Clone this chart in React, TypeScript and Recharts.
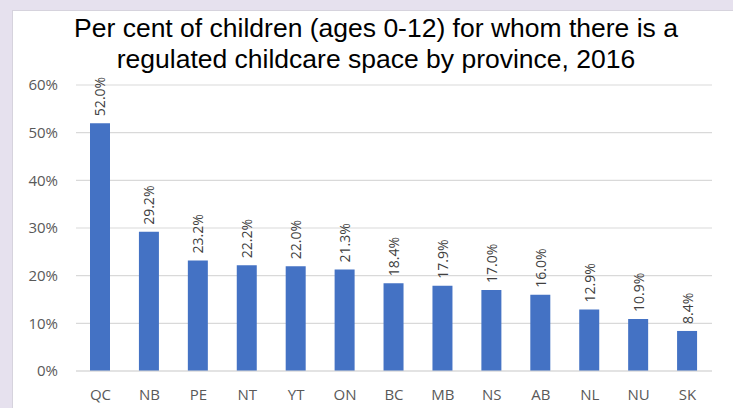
import React from "react";
import {
  BarChart,
  Bar,
  XAxis,
  YAxis,
  CartesianGrid,
  LabelList,
} from "recharts";

const provinces = ["QC", "NB", "PE", "NT", "YT", "ON", "BC", "MB", "NS", "AB", "NL", "NU", "SK"];
const coverage = [52.0, 29.2, 23.2, 22.2, 22.0, 21.3, 18.4, 17.9, 17.0, 16.0, 12.9, 10.9, 8.4];
const yTicks = [0, 10, 20, 30, 40, 50, 60];

const titleLines = [
  "Per cent of children (ages 0-12) for whom there is a",
  "regulated childcare space by province, 2016",
];

const data = provinces.map((p, i) => ({ province: p, value: coverage[i] }));

const tickFont = { fontFamily: "'Open Sans', sans-serif", fontSize: 15, fill: "#595959" };

function RotatedLabel(props: any) {
  const { x, y, width, value } = props;
  const cx = x + width / 2;
  const ty = y - 7;
  return (
    <text
      x={cx}
      y={ty}
      transform={`rotate(-90, ${cx}, ${ty})`}
      textAnchor="start"
      dominantBaseline="central"
      fontFamily="'Open Sans', sans-serif"
      fontSize={14}
      fill="#404040"
    >
      {`${Number(value).toFixed(1)}%`}
    </text>
  );
}

export default function App() {
  return (
    <div
      style={{
        position: "absolute",
        left: 0,
        top: 0,
        width: 733,
        height: 408,
        background: "#e6e1ee",
        overflow: "hidden",
      }}
    >
      <div
        style={{
          position: "absolute",
          left: 12,
          top: 10,
          width: 721,
          height: 398,
          background: "#ffffff",
          borderLeft: "1px solid #d6d3dd",
          borderTop: "1px solid #d6d3dd",
          boxSizing: "border-box",
        }}
      >
        <div
          style={{
            position: "absolute",
            left: 0,
            top: 2,
            width: 726,
            textAlign: "center",
            fontFamily: "'Liberation Sans', Arial, sans-serif",
            fontSize: 26.5,
            lineHeight: "31px",
            color: "#000000",
            whiteSpace: "nowrap",
          }}
        >
          {titleLines.map((l) => (
            <div key={l}>{l}</div>
          ))}
        </div>
        <BarChart
          width={721}
          height={398}
          data={data}
          margin={{ top: 75, right: 21, bottom: 0, left: 0 }}
          style={{ position: "absolute", left: -1, top: -1 }}
        >
          <CartesianGrid vertical={false} stroke="#d9d9d9" strokeWidth={1.2} />
          <XAxis
            dataKey="province"
            height={37}
            tickLine={false}
            tickSize={0}
            tickMargin={18}
            axisLine={{ stroke: "#d9d9d9", strokeWidth: 1.2 }}
            tick={tickFont}
            interval={0}
          />
          <YAxis
            width={64}
            domain={[0, 60]}
            ticks={yTicks}
            tickFormatter={(v: number) => `${v}%`}
            tickLine={false}
            tickSize={0}
            tickMargin={18}
            axisLine={false}
            tick={tickFont}
          />
          <Bar dataKey="value" fill="#4472c4" barSize={20} isAnimationActive={false}>
            <LabelList dataKey="value" content={RotatedLabel} />
          </Bar>
        </BarChart>
      </div>
    </div>
  );
}
